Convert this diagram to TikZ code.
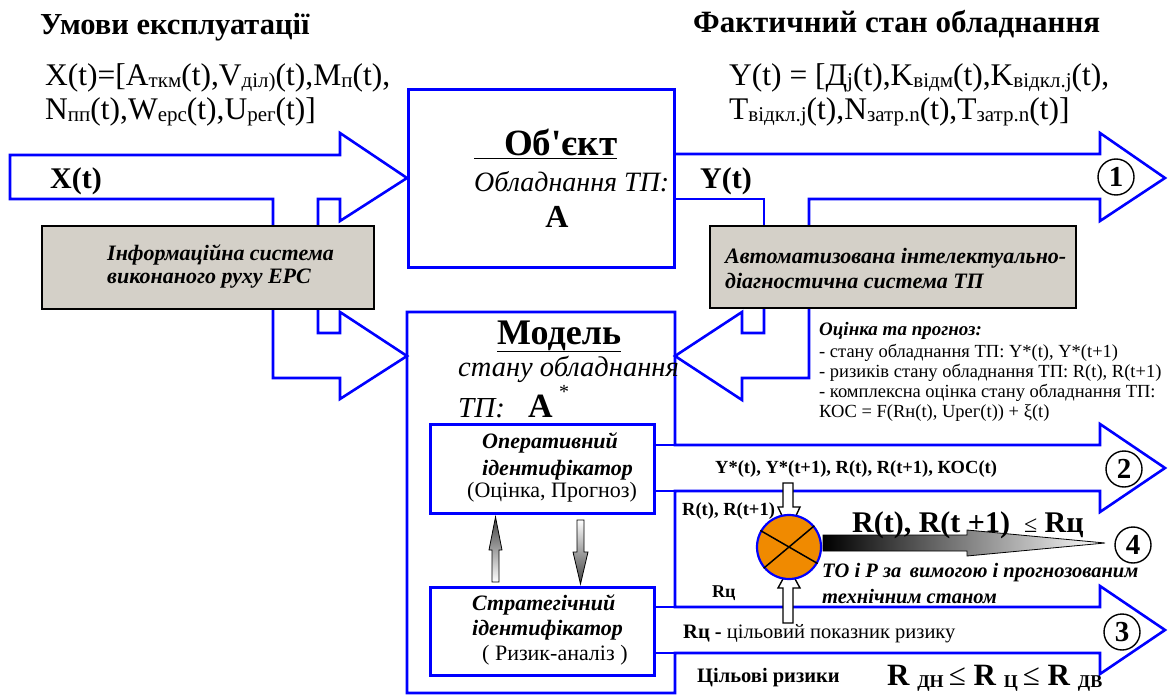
\documentclass[tikz,border=0pt]{standalone}
\usepackage{fontspec}
\setmainfont{Liberation Serif}[Ligatures=TeXOff]
\definecolor{myblue}{RGB}{0,0,255}
\definecolor{boxgray}{RGB}{212,208,200}
\definecolor{myorange}{RGB}{240,138,0}
\newcommand\fs[1]{\fontsize{#1}{#1}\selectfont}
\newcommand\sbx[1]{\raisebox{-2pt}{\fs{21}#1}}
\newcommand\sby[1]{\raisebox{-2pt}{\fs{18}#1}}
\begin{document}
\begin{tikzpicture}[x=1pt,y=-1pt,
  blk/.style={draw=myblue,line width=2.6pt,line join=miter},
  gbox/.style={draw=black,line width=2pt,fill=boxgray,inner sep=0pt},
  bbox/.style={draw=myblue,line width=2.6pt,inner sep=0pt},
  txt/.style={inner sep=0pt,anchor=base west},
  num/.style={circle,draw=black,line width=1.4pt,minimum size=36pt,inner sep=0pt,font=\bfseries\fs{29}},
  hollow/.style={draw=black,line width=1.4pt,fill=white,line join=miter},
]
\useasboundingbox (0,0) rectangle (1170,695);

% ---------- blue block arrows ----------
% X(t) input arrow
\draw[blk] (273,230) -- (273,199) -- (10,199) -- (10,155) -- (340,155) -- (340,133)
  -- (407,178) -- (340,221) -- (340,199) -- (318,199) -- (318,230);
% lower-left arrow into model
\draw[blk] (273,300) -- (273,378) -- (340,378) -- (340,399) -- (407,356)
  -- (340,312) -- (340,333) -- (318,333) -- (318,300);
% Y(t) output arrow
\draw[blk] (764,230) -- (764,199) -- (673,199);
\draw[blk] (673,154) -- (1100,154) -- (1100,133) -- (1165,178) -- (1100,221)
  -- (1100,199) -- (809,199) -- (809,230);
% left-pointing arrow into model
\draw[blk] (764,300) -- (764,333) -- (742,333) -- (742,312) -- (675,356)
  -- (742,400) -- (742,378) -- (809,378) -- (809,300);
% Object box
\node[bbox,minimum width=266pt,minimum height=178pt,anchor=north west] (obj) at (407,88) {};
% Model box with arrows 2 and 3
\draw[blk] (407,312) -- (675,312) -- (675,445) -- (1100,445) -- (1100,424) -- (1165,468)
  -- (1100,512) -- (1100,491) -- (675,491) -- (675,607) -- (1100,607) -- (1100,586)
  -- (1165,630) -- (1100,674) -- (1100,653) -- (675,653) -- (675,693) -- (407,693) -- cycle;
\draw[blk] (653,445) -- (675,445);
\draw[blk] (653,491) -- (675,491);
\draw[blk] (653,607) -- (675,607);
\draw[blk] (653,653) -- (675,653);
% inner boxes
\node[bbox,fill=white,minimum width=224pt,minimum height=89pt,anchor=north west] (oper) at (429,423) {};
\node[bbox,fill=white,minimum width=224pt,minimum height=88pt,anchor=north west] (strat) at (429,586) {};

% ---------- gray boxes ----------
\node[gbox,minimum width=332pt,minimum height=83pt,anchor=north west] (isb) at (41,225) {};
\node[gbox,minimum width=366pt,minimum height=82pt,anchor=north west] (aid) at (709,225) {};

% ---------- gradient arrows between identifiers ----------
\path[draw=black,line width=0.8pt,bottom color=white,top color=black!75]
  (492,582) -- (499,582) -- (499,550) -- (502,550) -- (495.5,517) -- (489,550) -- (492,550) -- cycle;
\path[draw=black,line width=0.8pt,top color=white,bottom color=black!75]
  (577,520) -- (584,520) -- (584,552) -- (588,552) -- (580.5,584) -- (573,552) -- (577,552) -- cycle;

% ---------- comparator ----------
\draw[hollow] (783,483) -- (793,483) -- (793,507) -- (800,507) -- (789,531) -- (778,507) -- (783,507) -- cycle;
\draw[hollow] (783,623) -- (793,623) -- (793,588) -- (800,588) -- (789,568) -- (778,588) -- (783,588) -- cycle;
\node[circle,draw=myblue,line width=2.2pt,fill=myorange,minimum size=64pt,inner sep=0pt] (cmp) at (789,547) {};
\draw[line width=1.5pt] (cmp.150) -- (cmp.-30);
\draw[line width=1.5pt] (cmp.220) -- (cmp.40);
% big gradient arrow
\path[draw=black,line width=0.8pt,left color=black,right color=white]
  (823,535) -- (967,535) -- (967,530) -- (1105,543) -- (967,556) -- (967,551) -- (823,551) -- cycle;

% ---------- numbered circles ----------
\node[num] (n1) at (1116,177) {1};
\node[num] (n2) at (1124,469) {2};
\node[num] (n3) at (1122,632) {3};
\node[num] (n4) at (1133,545) {4};

% ---------- texts ----------
\node[txt,font=\bfseries\fs{30.5}] (h1) at (40,35) {Умови експлуатації};
\node[txt,font=\bfseries\fs{31}] (h2) at (693,33) {Фактичний стан обладнання};
\node[txt,font=\fs{31.5}] (xf1) at (45,86) {X(t)=[A\sbx{ткм}(t),V\sbx{діл)}(t),M\sbx{п}(t),};
\node[txt,font=\fs{31.5}] (xf2) at (45,120) {N\sbx{пп}(t),W\sbx{ерс}(t),U\sbx{рег}(t)]};
\node[txt,font=\fs{31.5}] (yf1) at (729,86) {Y(t) = [Д\sbx{j}(t),K\sbx{відм}(t),K\sbx{відкл.j}(t),};
\node[txt,font=\fs{31.5}] (yf2) at (729,120) {T\sbx{відкл.j}(t),N\sbx{затр.n}(t),T\sbx{затр.n}(t)]};

\node[txt,font=\bfseries\fs{30}] (xl) at (50,189) {X(t)};
\node[txt,font=\bfseries\fs{30}] (yl) at (700,189) {Y(t)};

\node[txt,font=\bfseries\fs{37}] (objt) at (474,156) {\underline{\hspace{30pt}Об'єкт}};
\node[txt,font=\itshape\fs{28}] (objs) at (474,192) {Обладнання ТП:};
\node[anchor=base,inner sep=0pt,font=\bfseries\fs{32}] (obja) at (557,228) {А};

\node[txt,font=\bfseries\fs{36}] (modt) at (497,344) {\underline{Модель}};
\node[txt,font=\itshape\fs{28.5}] (mods) at (458,376) {стану обладнання};
\node[txt,font=\itshape\fs{29}] (modtp) at (458,417) {ТП:};
\node[txt,font=\bfseries\fs{34}] (moda) at (528,417) {А};
\node[txt,font=\fs{20}] (modst) at (559,398) {*};

\node[txt,font=\bfseries\itshape\fs{22}] (isb1) at (107,260) {Інформаційна система};
\node[txt,font=\bfseries\itshape\fs{22}] (isb2) at (107,283) {виконаного руху ЕРС};
\node[txt,font=\bfseries\itshape\fs{22}] (aid1) at (725,263) {Автоматизована інтелектуально-};
\node[txt,font=\bfseries\itshape\fs{22}] (aid2) at (725,288) {діагностична система ТП};

\node[txt,font=\bfseries\itshape\fs{22}] (op1) at (482,448) {Оперативний};
\node[txt,font=\bfseries\itshape\fs{22}] (op2) at (482,475) {ідентифікатор};
\node[txt,font=\fs{22}] (op3) at (467,497) {(Оцінка, Прогноз)};
\node[txt,font=\bfseries\itshape\fs{22}] (st1) at (472,610) {Стратегічний};
\node[txt,font=\bfseries\itshape\fs{22}] (st2) at (472,635) {ідентифікатор};
\node[txt,font=\fs{22}] (st3) at (482,660) {( Ризик-аналіз )};

\node[txt,font=\bfseries\itshape\fs{19}] (ev0) at (819,335) {Оцінка та прогноз:};
\node[txt,font=\fs{18.5}] (ev1) at (819,357) {- стану обладнання ТП: Y*(t), Y*(t+1)};
\node[txt,font=\fs{18.5}] (ev2) at (819,377) {- ризиків стану обладнання ТП: R(t), R(t+1)};
\node[txt,font=\fs{18.5}] (ev3) at (819,397) {- комплексна оцінка стану обладнання ТП:};
\node[txt,font=\fs{18.5}] (ev4) at (819,417) {КОС = F(Rн(t), Uрег(t)) + ξ(t)};

\node[txt,font=\bfseries\fs{18.5}] (a2t) at (715,473) {Y*(t), Y*(t+1), R(t), R(t+1), КОС(t)};
\node[txt,font=\bfseries\fs{18.5}] (rin) at (682,515) {R(t), R(t+1)};
\node[txt,font=\bfseries\fs{18}] (rc) at (712,597) {Rц};
\node[txt,font=\bfseries\fs{30}] (cond) at (852,532) {R(t), R(t +1)\hspace{14pt}{\mdseries\fs{24}≤} Rц};
\node[txt,font=\bfseries\itshape\fs{20.5}] (to1) at (822,577) {ТО і Р за\, вимогою і прогнозованим};
\node[txt,font=\bfseries\itshape\fs{20.5}] (to2) at (822,603) {технічним станом};
\node[txt,font=\fs{20.5}] (rcd) at (683,638) {\textbf{Rц -} цільовий показник ризику};
\node[txt,font=\bfseries\fs{20.5}] (tr) at (697,682) {Цільові ризики};
\node[txt,font=\bfseries\fs{31}] (rng) at (887,685) {R \sby{ДН}\,{\mdseries ≤} R \sby{Ц}\,{\mdseries ≤} R \sby{ДВ}};
\end{tikzpicture}
\end{document}
